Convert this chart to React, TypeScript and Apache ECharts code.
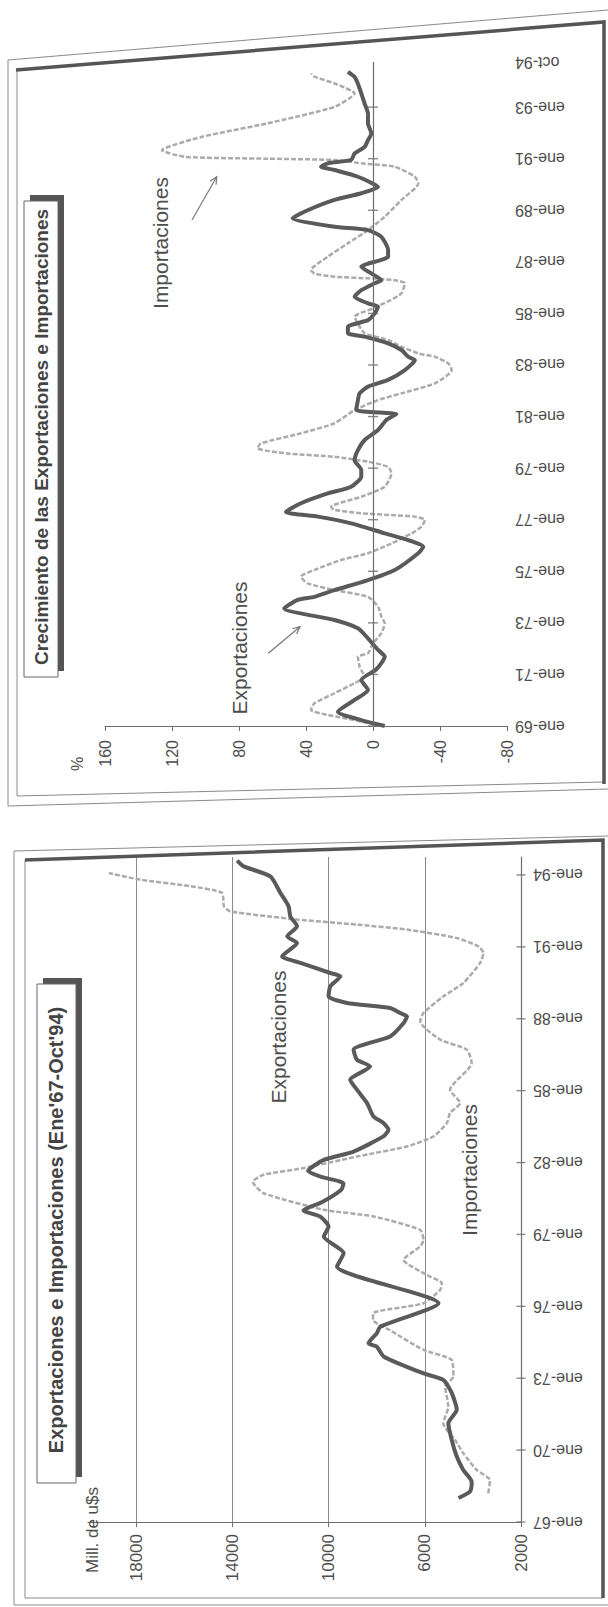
import React, { useEffect, useRef } from "react";
import * as echarts from "echarts";

const FONT = "'Liberation Sans', Arial, Helvetica, sans-serif";

// ---------- Bottom panel: Exportaciones e Importaciones (Mill. de u$s), Ene'67-Oct'94 ----------
const levelExpYears = [
  1968.0, 1968.27, 1968.68, 1969.17, 1969.73, 1970.42, 1971.13, 1971.68, 1972.39, 1972.93,
  1973.2, 1973.9, 1974.32, 1974.46, 1974.88, 1975.15, 1976.13, 1977.66, 1978.22, 1978.91,
  1979.33, 1979.74, 1980.0, 1980.35, 1980.86, 1981.13, 1981.4, 1981.65, 1982.11, 1982.46,
  1983.09, 1983.37, 1983.65, 1983.92, 1984.48, 1985.04, 1985.46, 1986.01, 1986.29, 1986.71,
  1987.26, 1987.82, 1988.1, 1988.24, 1988.45, 1988.66, 1988.93, 1989.35, 1989.77, 1989.91,
  1990.33, 1990.6, 1991.16, 1991.44, 1991.86, 1992.27, 1992.69, 1993.25, 1993.94, 1994.36, 1994.6,
];
const levelExpValues = [
  4600, 4120, 4050, 4400, 4670, 4880, 5020, 4670, 4880, 5230,
  6050, 7700, 8000, 8340, 7990, 7850, 5430, 9650, 9370, 10200,
  10000, 10340, 11040, 10260, 9470, 9380, 10300, 10850, 10200, 8960,
  7720, 7510, 7720, 8130, 8400, 8820, 9100, 8270, 8820, 8960,
  7440, 6880, 6740, 7020, 7440, 9230, 10000, 9930, 9510, 9930,
  11170, 11930, 11310, 11720, 11310, 11590, 11660, 12000, 12420, 13530, 13800,
];
const levelImpYears = [
  1968.2, 1968.75, 1969.17, 1969.87, 1970.42, 1971.12, 1971.81, 1972.65, 1973.07, 1973.76,
  1974.18, 1975.0, 1975.43, 1975.71, 1976.13, 1976.69, 1976.97, 1977.24, 1977.94, 1978.5,
  1978.77, 1979.19, 1979.75, 1980.03, 1980.72, 1981.2, 1981.49, 1981.77, 1982.25, 1982.67,
  1983.09, 1983.65, 1984.07, 1984.48, 1985.04, 1986.15, 1986.71, 1987.13, 1987.89, 1988.24,
  1988.93, 1989.49, 1990.33, 1990.74, 1991.02, 1991.37, 1991.72, 1991.93, 1992.14, 1992.48,
  1992.69, 1993.25, 1993.53, 1993.8, 1994.08,
];
const levelImpValues = [
  3360, 3290, 3840, 4400, 4740, 5230, 5020, 5150, 4810, 4880,
  6050, 7440, 8150, 8150, 6050, 5360, 5290, 5780, 6880, 6190,
  6055, 6190, 8130, 10200, 12700, 13150, 12700, 11040, 8820, 6740,
  5640, 5080, 4950, 4530, 4950, 4050, 4250, 5360, 6190, 6055,
  5230, 4400, 3700, 3560, 3770, 4670, 6740, 8820, 11310, 14080,
  14350, 14420, 15740, 17810, 19130,
];
const levelTickYears = [1967, 1970, 1973, 1976, 1979, 1982, 1985, 1988, 1991, 1994];

// ---------- Top panel: Crecimiento (%) ----------
const growthExpYears = [
  1969.0, 1969.23, 1969.55, 1970.01, 1970.4, 1970.78, 1971.2, 1971.69, 1971.95, 1972.4,
  1972.79, 1973.11, 1973.56, 1973.89, 1974.01, 1974.27, 1974.66, 1975.05, 1975.7, 1975.95,
  1976.21, 1976.47, 1976.86, 1977.12, 1977.3, 1977.64, 1978.02, 1978.28, 1978.67, 1978.93,
  1979.31, 1979.7, 1980.09, 1980.48, 1980.87, 1981.1, 1981.25, 1981.64, 1981.9, 1982.16,
  1982.42, 1982.8, 1983.19, 1983.32, 1983.58, 1983.84, 1984.1, 1984.23, 1984.48, 1984.74,
  1985.0, 1985.26, 1985.39, 1985.65, 1985.9, 1986.17, 1986.29, 1986.55, 1986.81, 1987.2,
  1987.46, 1987.97, 1988.23, 1988.36, 1988.69, 1989.0, 1989.4, 1989.66, 1989.9, 1990.3,
  1990.56, 1990.69, 1990.82, 1990.95, 1991.2, 1991.46, 1991.72, 1991.98, 1992.37, 1992.75,
  1993.14, 1993.53, 1993.91, 1994.17, 1994.37,
];
const growthExpValues = [
  -7, 7, 21, 11, 3, 7, -2, -7, -3, 3,
  9, 23, 53, 45, 35, 23, 3, -13, -27, -30,
  -21, -7, 13, 33, 52, 43, 27, 13, 7, 7,
  11, 9, 5, -3, -8, -14, 10, 9, 8, 3,
  -9, -19, -25, -21, -17, -9, 5, 15, 15, 3,
  -1, -3, 3, 11, 7, -1, -5, 1, 7, -9,
  -9, -5, 3, 23, 48, 39, 23, 7, -3, 9,
  23, 31, 27, 13, 11, 5, 3, 1, 3, 3,
  5, 7, 9, 11, 15,
];
const growthImpYears = [
  1969.0, 1969.23, 1969.43, 1969.62, 1969.88, 1970.27, 1970.66, 1970.91, 1971.3, 1971.69,
  1971.82, 1972.2, 1972.6, 1972.98, 1973.24, 1973.63, 1974.01, 1974.27, 1974.53, 1974.79,
  1975.05, 1975.44, 1975.7, 1976.08, 1976.47, 1976.73, 1976.99, 1977.12, 1977.18, 1977.25,
  1977.38, 1977.5, 1977.89, 1978.28, 1978.8, 1979.05, 1979.25, 1979.44, 1979.57, 1979.77,
  1979.96, 1980.35, 1980.74, 1981.25, 1981.64, 1981.9, 1982.29, 1982.8, 1983.06, 1983.32,
  1983.45, 1983.71, 1983.97, 1984.23, 1984.6, 1984.87, 1985.2, 1985.5, 1985.78, 1986.17,
  1986.29, 1986.36, 1986.42, 1986.55, 1986.68, 1987.2, 1987.72, 1988.23, 1988.75, 1989.4,
  1990.04, 1990.3, 1990.69, 1990.82, 1990.95, 1991.0, 1991.07, 1991.33, 1991.85, 1992.37,
  1993.01, 1993.53, 1993.92, 1994.18, 1994.3,
];
const growthImpValues = [
  -5, 11, 27, 37, 35, 23, 11, 5, 8, 9,
  3, 0, -5, -7, -5, -3, 3, 23, 39, 43,
  35, 19, 3, -11, -23, -29, -31, -25, -11, 7,
  23, 25, 7, -7, -11, -9, 3, 23, 51, 69,
  67, 43, 23, 11, -3, -17, -37, -47, -45, -37,
  -27, -17, -9, 5, 9, 11, 0, -10, -17, -19,
  -13, 3, 23, 35, 37, 27, 15, 3, -7, -17,
  -27, -25, -13, 7, 23, 63, 112, 126, 102, 63,
  23, 11, 23, 35, 37,
];
const growthTickYears = [1969, 1971, 1973, 1975, 1977, 1979, 1981, 1983, 1985, 1987, 1989, 1991, 1993];

const zip = (ys: number[], vs: number[]) => ys.map((y, i) => [vs[i], y]);

const timeLabel = (v: number) => {
  const yy = String(Math.floor(v) % 100).padStart(2, "0");
  return Number.isInteger(v) ? "ene-" + yy : "oct-" + yy;
};
const plainNumber = (v: number) => String(v);

const INK = "#4d4d4d";
const AXIS = "#6e6e6e";
const EXP = "#5a5a5a";
const IMP = "#ababab";

function vtext(text: string, x: number, y: number, size: number, weight = "normal", color = INK) {
  return {
    type: "text",
    x,
    y,
    rotation: Math.PI / 2,
    z: 20,
    style: {
      text,
      fontSize: size,
      fontFamily: FONT,
      fontWeight: weight,
      fill: color,
      align: "center",
      verticalAlign: "middle",
      textAlign: "center",
      textVerticalAlign: "middle",
    },
  };
}

function arrow(x1: number, y1: number, x2: number, y2: number) {
  const dx = x2 - x1;
  const dy = y2 - y1;
  const len = Math.sqrt(dx * dx + dy * dy);
  const ux = -dx / len;
  const uy = -dy / len;
  const a = (25 * Math.PI) / 180;
  const h = 8;
  const p1 = [x2 + h * (ux * Math.cos(a) - uy * Math.sin(a)), y2 + h * (ux * Math.sin(a) + uy * Math.cos(a))];
  const p2 = [x2 + h * (ux * Math.cos(a) + uy * Math.sin(a)), y2 + h * (-ux * Math.sin(a) + uy * Math.cos(a))];
  return [
    { type: "line", z: 20, shape: { x1, y1, x2, y2 }, style: { stroke: "#777", lineWidth: 1.2 } },
    { type: "polyline", z: 20, shape: { points: [p1, [x2, y2], p2] }, style: { stroke: "#777", lineWidth: 1.2, fill: null } },
  ];
}

function pline(points: number[][], width: number, color: string) {
  return { type: "polyline", z: 1, shape: { points }, style: { stroke: color, lineWidth: width, fill: null } };
}

function titleBox(x: number, y: number, w: number, h: number) {
  return [
    { type: "rect", z: 5, shape: { x: x + 6, y: y - 6, width: w, height: h }, style: { fill: "#555" } },
    { type: "rect", z: 6, shape: { x, y, width: w, height: h }, style: { fill: "#fff", stroke: "#666", lineWidth: 1 } },
  ];
}

export default function App() {
  const ref = useRef<HTMLDivElement>(null);

  useEffect(() => {
    if (!ref.current) return;
    const chart = echarts.init(ref.current, undefined, { renderer: "svg" });

    const option: any = {
      animation: false,
      backgroundColor: "#ffffff",
      textStyle: { fontFamily: FONT },
      grid: [
        { left: 105, top: 62, width: 402, height: 664 },
        { left: 88, top: 857, width: 433, height: 665 },
      ],
      xAxis: [
        {
          gridIndex: 0,
          type: "value",
          min: -80,
          max: 160,
          interval: 40,
          inverse: true,
          position: "bottom",
          axisLine: { show: true, onZero: false, lineStyle: { color: AXIS, width: 1.2 } },
          axisTick: { show: true, length: 5, lineStyle: { color: AXIS } },
          axisLabel: { rotate: 90, margin: 14, fontSize: 16, color: INK, fontFamily: FONT, formatter: plainNumber },
          splitLine: { show: false },
        },
        {
          gridIndex: 1,
          type: "value",
          min: 2000,
          max: 20000,
          interval: 4000,
          inverse: true,
          position: "bottom",
          axisLine: { show: true, onZero: false, lineStyle: { color: AXIS, width: 1.2 } },
          axisTick: { show: true, length: 5, lineStyle: { color: AXIS } },
          axisLabel: { rotate: 90, margin: 12, fontSize: 17, color: INK, fontFamily: FONT, showMaxLabel: false, formatter: plainNumber },
          splitLine: { show: true, showMinLine: false, showMaxLine: false, lineStyle: { color: "#8c8c8c", width: 1 } },
        },
      ],
      yAxis: [
        {
          gridIndex: 0,
          type: "value",
          min: 1969,
          max: 1994.75,
          interval: 2,
          position: "right",
          axisLine: { show: false, onZero: false },
          axisTick: { show: false },
          splitLine: { show: false },
          axisLabel: { rotate: 180, margin: 8, fontSize: 16, color: INK, fontFamily: FONT, formatter: timeLabel },
        },
        {
          gridIndex: 1,
          type: "value",
          min: 1967,
          max: 1994.75,
          interval: 3,
          position: "right",
          axisLine: { show: true, onZero: false, lineStyle: { color: AXIS, width: 1.2 } },
          axisTick: { show: false },
          splitLine: { show: false },
          axisLabel: { rotate: 180, margin: 12, fontSize: 16, color: INK, fontFamily: FONT, formatter: timeLabel, showMaxLabel: false },
        },
      ],
      series: [
        {
          name: "Importaciones %",
          type: "line",
          xAxisIndex: 0,
          yAxisIndex: 0,
          data: zip(growthImpYears, growthImpValues),
          showSymbol: false,
          symbol: "none",
          smooth: 0.2,
          lineStyle: { color: IMP, width: 2.5, type: [5, 2] },
          z: 2,
        },
        {
          name: "Exportaciones %",
          type: "line",
          xAxisIndex: 0,
          yAxisIndex: 0,
          data: zip(growthExpYears, growthExpValues),
          showSymbol: false,
          symbol: "none",
          smooth: 0.2,
          lineStyle: { color: EXP, width: 4 },
          z: 3,
          markLine: {
            silent: true,
            symbol: "none",
            label: { show: false },
            lineStyle: { color: AXIS, width: 1.2, type: "solid" },
            data: [{ xAxis: 0 }],
          },
        },
        {
          name: "ticks top",
          type: "scatter",
          xAxisIndex: 0,
          yAxisIndex: 0,
          data: growthTickYears.map((y) => [0, y]),
          symbol: "rect",
          symbolSize: [10, 1.4],
          itemStyle: { color: AXIS },
          z: 1,
          silent: true,
        },
        {
          name: "Importaciones",
          type: "line",
          xAxisIndex: 1,
          yAxisIndex: 1,
          data: zip(levelImpYears, levelImpValues),
          showSymbol: false,
          symbol: "none",
          smooth: 0.2,
          lineStyle: { color: IMP, width: 2.5, type: [5, 2] },
          z: 2,
        },
        {
          name: "Exportaciones",
          type: "line",
          xAxisIndex: 1,
          yAxisIndex: 1,
          data: zip(levelExpYears, levelExpValues),
          showSymbol: false,
          symbol: "none",
          smooth: 0.2,
          lineStyle: { color: EXP, width: 4 },
          z: 3,
        },
        {
          name: "ticks bottom",
          type: "scatter",
          xAxisIndex: 1,
          yAxisIndex: 1,
          data: levelTickYears.map((y) => [2000, y]),
          symbol: "rect",
          symbolSize: [9, 1.4],
          itemStyle: { color: AXIS },
          z: 1,
          silent: true,
        },
      ],
      graphic: {
        elements: [
          // top panel frame
          pline([[8, 60], [608, 10]], 1, "#8a8a8a"),
          pline([[8, 60], [8, 806], [608, 789]], 1, "#8a8a8a"),
          pline([[17, 70], [17, 796], [603, 782]], 1, "#8a8a8a"),
          pline([[16, 70], [604, 22], [604, 784]], 3.5, "#555"),
          // bottom panel frame
          pline([[14, 851], [608, 836]], 1, "#8a8a8a"),
          pline([[14, 851], [14, 1605], [608, 1605]], 1, "#8a8a8a"),
          pline([[25, 860], [25, 1598], [603, 1598]], 1, "#8a8a8a"),
          pline([[25, 860], [603, 840], [603, 1598]], 3.5, "#555"),
          // title boxes
          ...titleBox(24, 201, 34, 476),
          ...titleBox(37, 984, 39, 499),
          vtext("Crecimiento de las Exportaciones e Importaciones", 41, 437, 19, "bold", "#444"),
          vtext("Exportaciones e Importaciones (Ene'67-Oct'94)", 56, 1230, 20, "bold", "#444"),
          // axis titles
          vtext("%", 77, 764, 16),
          vtext("Mill. de u$s", 92, 1530, 17),
          // annotations
          vtext("Importaciones", 160, 243, 21),
          vtext("Exportaciones", 239, 648, 21),
          vtext("Exportaciones", 278, 1037, 21),
          vtext("Importaciones", 469, 1170, 21),
          ...arrow(192, 220, 216.7, 176.7),
          ...arrow(268.3, 653.3, 300, 626.7),
        ],
      },
    };

    chart.setOption(option);
    return () => chart.dispose();
  }, []);

  return <div ref={ref} style={{ position: "absolute", left: 0, top: 0, width: 608, height: 1607 }} />;
}
